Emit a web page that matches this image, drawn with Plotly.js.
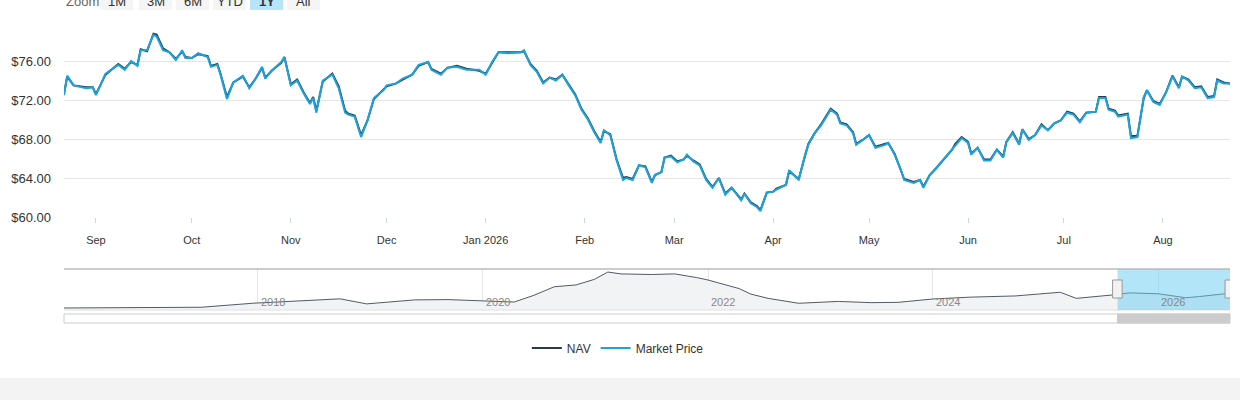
<!DOCTYPE html>
<html>
<head>
<meta charset="utf-8">
<script src="https://cdn.plot.ly/plotly-3.0.1.min.js"></script>
<style>
  body { margin: 0; background: #fff; }
  #chart { width: 1240px; height: 400px; }
</style>
</head>
<body>
<div id="chart"></div>
<script>
// one year of daily-ish closes
var dates = [
  '2025-08-22','2025-08-23','2025-08-25','2025-08-29','2025-08-31','2025-09-01','2025-09-04','2025-09-08','2025-09-10','2025-09-12',
  '2025-09-14','2025-09-15','2025-09-17','2025-09-19','2025-09-20','2025-09-22','2025-09-24','2025-09-26','2025-09-28','2025-09-29',
  '2025-10-01','2025-10-03','2025-10-06','2025-10-07','2025-10-09','2025-10-10','2025-10-12','2025-10-14','2025-10-17','2025-10-19',
  '2025-10-21','2025-10-23','2025-10-24','2025-10-26','2025-10-29','2025-10-30','2025-11-01','2025-11-03','2025-11-05','2025-11-07',
  '2025-11-08','2025-11-09','2025-11-11','2025-11-14','2025-11-16','2025-11-18','2025-11-19','2025-11-21','2025-11-23','2025-11-25',
  '2025-11-27','2025-11-30','2025-12-01','2025-12-04','2025-12-06','2025-12-09','2025-12-11','2025-12-14','2025-12-15','2025-12-18',
  '2025-12-20','2025-12-23','2025-12-26','2025-12-30','2026-01-01','2026-01-03','2026-01-05','2026-01-08','2026-01-12','2026-01-13',
  '2026-01-15','2026-01-17','2026-01-19','2026-01-21','2026-01-23','2026-01-25','2026-01-27','2026-01-29','2026-01-31','2026-02-02',
  '2026-02-04','2026-02-06','2026-02-07','2026-02-09','2026-02-11','2026-02-13','2026-02-14','2026-02-16','2026-02-18','2026-02-20',
  '2026-02-22','2026-02-23','2026-02-25','2026-02-26','2026-02-28','2026-03-02','2026-03-04','2026-03-05','2026-03-07','2026-03-09',
  '2026-03-11','2026-03-13','2026-03-15','2026-03-17','2026-03-19','2026-03-22','2026-03-23','2026-03-25','2026-03-27','2026-03-28',
  '2026-03-30','2026-04-01','2026-04-02','2026-04-05','2026-04-06','2026-04-09','2026-04-11','2026-04-12','2026-04-14','2026-04-16',
  '2026-04-19','2026-04-21','2026-04-22','2026-04-24','2026-04-26','2026-04-27','2026-04-29','2026-05-01','2026-05-03','2026-05-06',
  '2026-05-07','2026-05-09','2026-05-11','2026-05-12','2026-05-15','2026-05-17','2026-05-18','2026-05-20','2026-05-22','2026-05-24',
  '2026-05-27','2026-05-28','2026-05-30','2026-06-01','2026-06-02','2026-06-04','2026-06-06','2026-06-08','2026-06-10','2026-06-12',
  '2026-06-13','2026-06-15','2026-06-17','2026-06-18','2026-06-20','2026-06-22','2026-06-24','2026-06-26','2026-06-28','2026-06-30',
  '2026-07-02','2026-07-04','2026-07-06','2026-07-08','2026-07-11','2026-07-12','2026-07-14','2026-07-15','2026-07-17','2026-07-18',
  '2026-07-21','2026-07-22','2026-07-24','2026-07-26','2026-07-27','2026-07-29','2026-07-31','2026-08-02','2026-08-04','2026-08-06',
  '2026-08-07','2026-08-09','2026-08-11','2026-08-13','2026-08-15','2026-08-17','2026-08-18','2026-08-20','2026-08-22'
];
var marketPrice = [
  72.5,74.5,73.5,73.2,73.3,72.5,74.7,75.6,75.1,76.0,
  75.5,77.1,77.1,78.7,78.5,77.1,76.9,76.1,77.1,76.3,
  76.3,76.8,76.4,75.4,75.6,74.6,72.1,73.8,74.5,73.2,
  74.2,75.4,74.2,75.0,75.9,76.4,73.5,74.0,72.7,71.6,
  72.2,70.7,74.0,74.6,73.2,70.7,70.5,70.3,68.2,69.9,
  72.2,73.0,73.5,73.7,74.2,74.6,75.6,75.9,75.1,74.6,
  75.3,75.4,75.1,75.1,74.6,75.9,76.9,76.8,76.9,77.1,
  75.6,74.9,73.7,74.3,74.0,74.6,73.5,72.5,71.0,70.0,
  68.7,67.6,68.9,68.4,65.8,63.8,64.0,63.8,65.3,65.1,
  63.5,64.3,64.6,66.1,66.2,65.6,65.9,66.4,65.7,65.3,
  63.8,63.0,64.0,62.3,63.0,61.7,62.4,61.4,61.0,60.6,
  62.5,62.6,62.8,63.3,64.8,63.8,66.4,67.4,68.6,69.4,
  71.0,70.5,69.6,69.4,68.6,67.4,67.9,68.4,67.1,67.4,
  67.6,66.4,64.8,63.8,63.5,63.8,63.0,64.3,65.0,65.8,
  66.9,67.4,68.1,67.6,66.4,67.1,65.8,65.8,66.9,66.1,
  67.7,68.6,67.4,69.0,67.9,68.4,69.4,68.9,69.6,69.9,
  70.7,70.5,69.7,70.7,70.8,72.2,72.2,71.0,70.8,70.3,
  70.5,68.1,68.2,72.3,73.0,71.8,71.5,72.8,74.4,73.2,
  74.4,74.0,73.2,73.3,72.2,72.3,74.0,73.7,73.7
];
var nav = [
  72.6,74.4,73.5,73.3,73.3,72.6,74.6,75.7,75.2,75.9,
  75.6,77.2,77.0,78.8,78.7,77.3,76.9,76.2,77.0,76.4,
  76.3,76.7,76.5,75.5,75.7,74.7,72.3,73.8,74.4,73.3,
  74.2,75.3,74.3,75.0,75.8,76.4,73.6,74.1,72.8,71.7,
  72.3,70.9,73.9,74.7,73.4,70.9,70.6,70.4,68.4,69.9,
  72.1,73.0,73.4,73.7,74.1,74.6,75.5,75.9,75.2,74.7,
  75.3,75.5,75.2,75.0,74.7,75.8,76.9,76.9,76.9,77.0,
  75.7,75.0,73.8,74.3,74.1,74.6,73.6,72.6,71.1,70.1,
  68.8,67.7,68.8,68.5,65.9,64.0,64.1,63.9,65.3,65.2,
  63.6,64.3,64.6,66.1,66.3,65.7,65.9,66.3,65.8,65.4,
  63.9,63.1,64.0,62.4,63.0,61.8,62.4,61.5,61.1,60.7,
  62.5,62.6,62.9,63.3,64.7,63.9,66.3,67.5,68.6,69.5,
  71.1,70.6,69.7,69.5,68.7,67.5,67.9,68.4,67.2,67.5,
  67.6,66.5,64.9,63.9,63.6,63.8,63.1,64.3,65.0,65.8,
  66.9,67.5,68.2,67.7,66.5,67.1,65.9,65.9,66.9,66.2,
  67.7,68.7,67.5,69.0,68.0,68.4,69.5,68.9,69.6,69.9,
  70.8,70.6,69.8,70.7,70.8,72.3,72.3,71.1,70.9,70.4,
  70.6,68.3,68.3,72.2,73.0,71.9,71.6,72.8,74.5,73.3,
  74.4,74.1,73.3,73.4,72.3,72.4,74.1,73.8,73.7
];

// full history used for the navigator strip
var histDates = [
  '2016-04-12','2016-10-12','2017-03-01','2017-07-01','2017-12-15','2018-03-15','2018-06-15','2018-09-25','2018-12-20',
  '2019-05-25','2019-09-10','2020-01-01','2020-04-12','2020-06-15','2020-08-20','2020-10-30','2020-12-28','2021-02-10',
  '2021-03-25','2021-07-01','2021-09-15','2021-11-25','2022-01-01','2022-04-12','2022-05-20','2022-07-15','2022-10-22',
  '2023-02-28','2023-06-15','2023-09-10','2024-01-01','2024-05-01','2024-09-25','2025-02-17','2025-04-10','2025-08-15',
  '2025-10-01','2026-01-01','2026-04-01','2026-05-15','2026-08-22'
];
var histValues = [
  28.6,29,30.5,31,44,48,52,58.5,42,
  55,56,53,48,70,98,104,122,146,
  140,138,140,128,120,92,74,60,44,
  50,46,47,58,64,68,80,60,72,
  78,75,62,66,77
];

var xTicks = ['2025-09-01','2025-10-01','2025-11-01','2025-12-01','2026-01-01','2026-02-01','2026-03-01','2026-04-01','2026-05-01','2026-06-01','2026-07-01','2026-08-01'];
var xTickText = ['Sep','Oct','Nov','Dec','Jan 2026','Feb','Mar','Apr','May','Jun','Jul','Aug'];
var yTicks = [60, 64, 68, 72, 76, 80];
var yTickText = ['$60.00','$64.00','$68.00','$72.00','$76.00',''];
var navYears = ['2018-01-01','2020-01-01','2022-01-01','2024-01-01','2026-01-01'];
var navYearText = ['2018','2020','2022','2024','2026'];
var zoomButtons = ['1M','3M','6M','YTD','1Y','All'];

var font = 'Liberation Sans, Arial, sans-serif';

var traces = [
  {
    type: 'scatter', mode: 'lines', name: 'NAV',
    x: dates, y: nav,
    line: {color: '#2b3a48', width: 2}, hoverinfo: 'skip'
  },
  {
    type: 'scatter', mode: 'lines', name: 'Market Price',
    x: dates, y: marketPrice,
    line: {color: '#1ba3dd', width: 2}, hoverinfo: 'skip'
  },
  {
    type: 'scatter', mode: 'lines', name: 'history', showlegend: false,
    x: histDates, y: histValues, xaxis: 'x2', yaxis: 'y2',
    fill: 'tozeroy', fillcolor: '#f2f3f5',
    line: {color: '#4f5b66', width: 1}, hoverinfo: 'skip'
  }
];

var shapes = [
  // navigator frame
  {type: 'line', xref: 'paper', yref: 'paper', x0: 0, x1: 1, y0: 0.3275, y1: 0.3275, line: {color: '#999', width: 1}},
  {type: 'line', xref: 'paper', yref: 'paper', x0: 0, x1: 1, y0: 0.225, y1: 0.225, line: {color: '#e0e0e0', width: 1}},
  // selected window
  {type: 'rect', xref: 'x2', yref: 'paper', x0: '2025-08-22', x1: '2026-08-22', y0: 0.225, y1: 0.3275,
   fillcolor: 'rgba(102,204,240,0.5)', line: {width: 0}, layer: 'above'},
  // handles
  {type: 'rect', xref: 'x2', yref: 'paper', x0: '2025-08-06', x1: '2025-09-06', y0: 0.255, y1: 0.3, fillcolor: '#f2f2f2', line: {color: '#999', width: 1}, layer: 'above'},
  {type: 'rect', xref: 'x2', yref: 'paper', x0: '2026-08-06', x1: '2026-09-06', y0: 0.255, y1: 0.3, fillcolor: '#f2f2f2', line: {color: '#999', width: 1}, layer: 'above'},
  // scrollbar
  {type: 'rect', xref: 'paper', yref: 'paper', x0: 0, x1: 1, y0: 0.1925, y1: 0.215, fillcolor: '#fff', line: {color: '#ccc', width: 1}},
  {type: 'rect', xref: 'x2', yref: 'paper', x0: '2025-08-22', x1: '2026-08-22', y0: 0.1925, y1: 0.215, fillcolor: '#cccccc', line: {color: '#cccccc', width: 1}},
  // grey footer band
  {type: 'rect', xref: 'paper', yref: 'paper', x0: -0.06, x1: 1.01, y0: 0, y1: 0.055, fillcolor: '#f3f3f3', line: {width: 0}}
];

var annotations = navYears.map(function (d, i) {
  return {xref: 'x2', yref: 'paper', x: d, y: 0.245, xanchor: 'left', yanchor: 'middle', xshift: 1,
          text: navYearText[i], showarrow: false, font: {family: font, size: 11, color: '#888'}};
});
annotations.push({xref: 'paper', yref: 'paper', x: 0, y: 1.0, xanchor: 'left', yanchor: 'middle', yshift: -1,
  text: 'Zoom', showarrow: false, font: {family: font, size: 13, color: '#666'}});

// range selector buttons (cut at the top edge)
var btnLeft = [100, 139, 176, 213, 250, 287];
zoomButtons.forEach(function (b, i) {
  var x0 = (btnLeft[i] - 64) / 1166, x1 = (btnLeft[i] + 33 - 64) / 1166;
  shapes.push({type: 'rect', xref: 'paper', yref: 'paper', x0: x0, x1: x1, y0: 0.975, y1: 1.02,
    fillcolor: b === '1Y' ? '#b6e4f8' : '#f5f5f5', line: {width: 0}});
  annotations.push({xref: 'paper', yref: 'paper', x: (x0 + x1) / 2, y: 1.0, xanchor: 'center', yanchor: 'middle', yshift: -1,
    text: b === '1Y' ? '<b>1Y</b>' : b, showarrow: false, font: {family: font, size: 13, color: '#333'}});
});

var layout = {
  width: 1240, height: 400,
  margin: {l: 64, r: 10, t: 0, b: 0},
  paper_bgcolor: '#fff', plot_bgcolor: '#fff',
  font: {family: font, color: '#333'},
  showlegend: true,
  legend: {orientation: 'h', x: 0.475, xanchor: 'center', y: 0.13, yanchor: 'middle', font: {family: font, size: 12, color: '#333'}},
  xaxis: {
    domain: [0, 1], anchor: 'y', range: ['2025-08-22', '2026-08-22'],
    tickvals: xTicks, ticktext: xTickText, ticks: 'outside', ticklen: 5, tickcolor: '#ccd6eb',
    ticklabelstandoff: 8,
    showgrid: false, zeroline: false, showline: false,
    tickfont: {family: font, size: 11, color: '#333'}
  },
  yaxis: {
    domain: [0.4575, 0.945], range: [60, 80],
    tickvals: yTicks, ticktext: yTickText, gridcolor: '#e6e6e6', zeroline: false,
    ticklabelstandoff: 12, tickfont: {family: font, size: 13, color: '#333'}
  },
  xaxis2: {
    domain: [0, 1], anchor: 'y2', range: ['2016-04-12', '2026-08-22'],
    tickvals: navYears, showticklabels: false, showgrid: true, gridcolor: '#e6e6e6', zeroline: false
  },
  yaxis2: {
    domain: [0.225, 0.3275], range: [22, 156], showgrid: false, showticklabels: false, zeroline: false
  },
  shapes: shapes,
  annotations: annotations
};

Plotly.newPlot('chart', traces, layout, {displayModeBar: false, staticPlot: true});
</script>
</body>
</html>
